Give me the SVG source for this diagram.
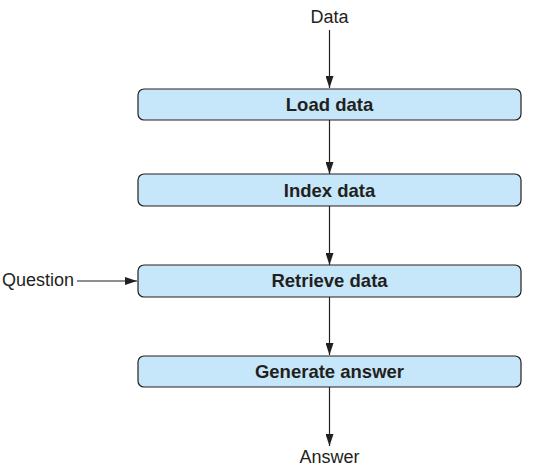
<svg xmlns="http://www.w3.org/2000/svg" width="538" height="468" viewBox="0 0 538 468">
<style>
.box{fill:#c6e7f9;stroke:#231f20;stroke-width:1.2}
.lbl{font-family:"Liberation Sans",Arial,sans-serif;font-size:18.5px;font-weight:bold;fill:#231f20;text-anchor:middle}
.txt{font-family:"Liberation Sans",Arial,sans-serif;font-size:18px;fill:#231f20}
.con{stroke:#231f20;stroke-width:1.2;fill:none;marker-end:url(#ah)}
</style>
<defs>
<marker id="ah" markerWidth="12" markerHeight="8" refX="12" refY="4" orient="auto" markerUnits="userSpaceOnUse">
<path d="M0,0 L12,4 L0,8 Z" fill="#231f20"/>
</marker>
</defs>
<rect width="538" height="468" fill="#fff"/>
<g id="connectors">
<line class="con" x1="329.5" y1="30" x2="329.5" y2="88"/>
<line class="con" x1="329.5" y1="120" x2="329.5" y2="174"/>
<line class="con" x1="329.5" y1="206" x2="329.5" y2="265"/>
<line class="con" x1="329.5" y1="297" x2="329.5" y2="355"/>
<line class="con" x1="329.5" y1="387" x2="329.5" y2="446"/>
<line class="con" x1="77" y1="281" x2="137" y2="281"/>
</g>
<g id="data"><text class="txt" x="329.5" y="22.5" text-anchor="middle">Data</text></g>
<g id="question"><text class="txt" x="2" y="286">Question</text></g>
<g id="answer"><text class="txt" x="329.5" y="463" text-anchor="middle">Answer</text></g>
<g id="load"><rect class="box" x="138" y="89" width="383" height="31" rx="6"/><text class="lbl" x="329.5" y="110.5">Load data</text></g>
<g id="index"><rect class="box" x="138" y="174" width="383" height="32" rx="6"/><text class="lbl" x="329.5" y="196.5">Index data</text></g>
<g id="retrieve"><rect class="box" x="138" y="265" width="383" height="32" rx="6"/><text class="lbl" x="329.5" y="287">Retrieve data</text></g>
<g id="generate"><rect class="box" x="138" y="356" width="383" height="31" rx="6"/><text class="lbl" x="329.5" y="377.5">Generate answer</text></g>
</svg>
